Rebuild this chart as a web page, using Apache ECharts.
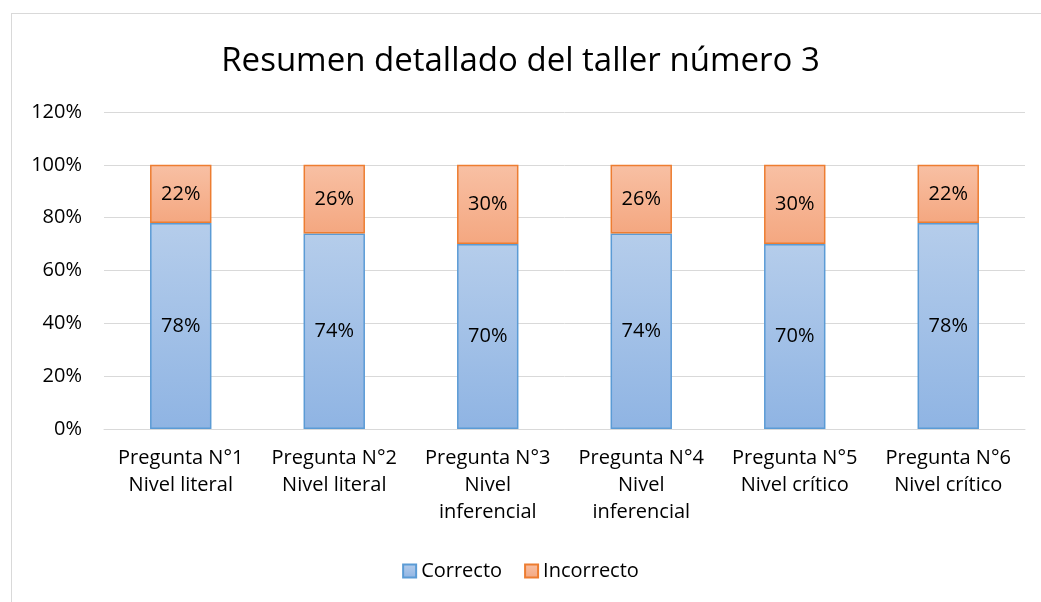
<!DOCTYPE html>
<html>
<head>
<meta charset="utf-8">
<script src="https://cdn.jsdelivr.net/npm/echarts@6/dist/echarts.min.js"></script>
<style>
  html, body { margin: 0; padding: 0; background: #fff; }
  #frame {
    position: absolute; left: 11px; top: 13px; width: 1040px; height: 600px;
    border: 1px solid #d9d9d9; box-sizing: border-box;
  }
  #chart { position: absolute; left: 0; top: 0; width: 1041px; height: 602px; }
</style>
</head>
<body>
<div id="frame"></div>
<div id="chart"></div>
<script>
// categorías y valores (%)
const categories = [
  'Pregunta N°1\nNivel literal',
  'Pregunta N°2\nNivel literal',
  'Pregunta N°3\nNivel\ninferencial',
  'Pregunta N°4\nNivel\ninferencial',
  'Pregunta N°5\nNivel crítico',
  'Pregunta N°6\nNivel crítico'
]
const correcto = [78, 74, 70, 74, 70, 78]
const incorrecto = [22, 26, 30, 26, 30, 22]

const fontFamily = '"Open Sans", "Noto Sans", sans-serif'

const chart = echarts.init(document.getElementById('chart'))

function grad(top, bottom) {
  return new echarts.graphic.LinearGradient(0, 0, 0, 1, [
    { offset: 0, color: top },
    { offset: 1, color: bottom }
  ])
}

chart.setOption({
  animation: false,
  title: {
    text: 'Resumen detallado del taller número 3',
    left: 'center',
    top: 40,
    textStyle: { fontFamily, fontSize: 33, fontWeight: 'normal', color: '#000' }
  },
  grid: { left: 104, right: 16, top: 112, bottom: 173 },
  legend: {
    bottom: 16,
    left: 'center',
    icon: 'rect',
    itemWidth: 13,
    itemHeight: 13,
    itemGap: 22,
    textStyle: { fontFamily, fontSize: 20, color: '#000' },
    data: ['Correcto', 'Incorrecto']
  },
  xAxis: {
    type: 'category',
    data: categories,
    axisTick: { show: false },
    axisLine: { lineStyle: { color: '#d9d9d9', width: 1 } },
    axisLabel: {
      fontFamily, fontSize: 20, color: '#000', lineHeight: 27, margin: 16, interval: 0
    }
  },
  yAxis: {
    type: 'value',
    min: 0,
    max: 120,
    interval: 20,
    axisLine: { show: false },
    axisTick: { show: false },
    splitLine: { lineStyle: { color: '#d9d9d9', width: 1 } },
    axisLabel: {
      fontFamily, fontSize: 20, color: '#000', margin: 22,
      formatter: v => v + '%'
    }
  },
  series: [
    {
      name: 'Correcto',
      type: 'bar',
      stack: 'total',
      barWidth: '40%',
      data: correcto,
      itemStyle: {
        color: grad('#b5cdeb', '#8fb4e3'),
        borderColor: '#5b9bd5',
        borderWidth: 1.5
      },
      label: {
        show: true, position: 'inside', fontFamily, fontSize: 20, color: '#000',
        formatter: p => p.value + '%'
      }
    },
    {
      name: 'Incorrecto',
      type: 'bar',
      stack: 'total',
      barWidth: '40%',
      data: incorrecto,
      itemStyle: {
        color: grad('#f8c0a4', '#f4a780'),
        borderColor: '#ed7d31',
        borderWidth: 1.5
      },
      label: {
        show: true, position: 'inside', fontFamily, fontSize: 20, color: '#000',
        formatter: p => p.value + '%'
      }
    }
  ]
})
</script>
</body>
</html>
